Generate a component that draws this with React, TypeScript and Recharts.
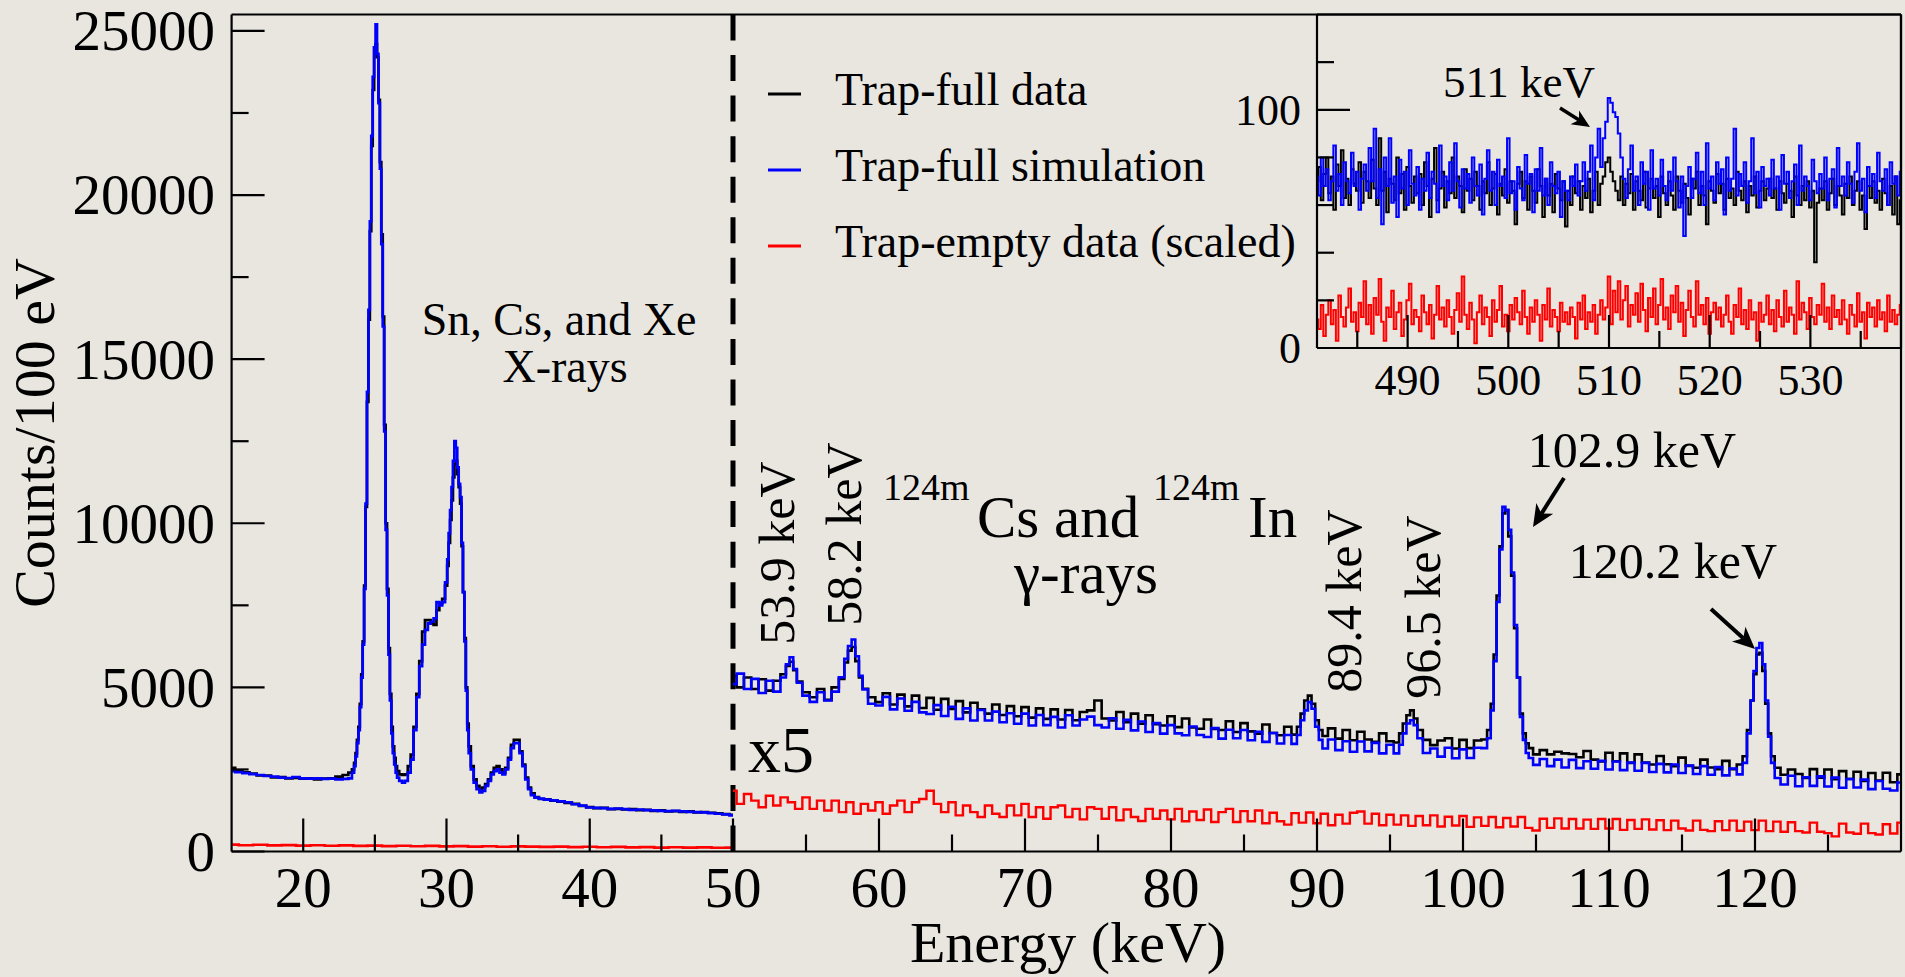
import React from 'react';
import { LineChart, Line, XAxis, YAxis, ReferenceLine } from 'recharts';

const FONT = '"Liberation Serif", "Times New Roman", Times, serif';
const BG = '#e9e6e0';
const AX = 2.2;

// ---------- Left panel: 15–50 keV (counts / 100 eV) ----------
const leftEnergy = [
  15, 15.5, 16, 16.5, 17, 17.5, 18, 18.5, 19, 19.5,
  20, 20.5, 21, 21.5, 22, 22.5, 23, 23.3, 23.5, 23.6,
  23.7, 23.8, 23.9, 24.0, 24.1, 24.2, 24.3, 24.4, 24.5, 24.6,
  24.7, 24.8, 24.9, 25.0, 25.1, 25.2, 25.3, 25.4, 25.5, 25.6,
  25.7, 25.8, 25.9, 26.0, 26.1, 26.2, 26.3, 26.4, 26.5, 26.6,
  26.8, 27.0, 27.2, 27.4, 27.6, 27.8, 28.0, 28.2, 28.4, 28.6,
  28.8, 29.0, 29.2, 29.4, 29.6, 29.8, 30.0, 30.1, 30.2, 30.3,
  30.4, 30.5, 30.6, 30.7, 30.8, 30.9, 31.0, 31.1, 31.2, 31.3,
  31.4, 31.5, 31.6, 31.8, 32.0, 32.2, 32.4, 32.6, 32.8, 33.0,
  33.2, 33.4, 33.6, 33.8, 34.0, 34.2, 34.4, 34.6, 34.8, 35.0,
  35.2, 35.4, 35.6, 35.8, 36.0, 36.3, 36.6, 37, 37.5, 38,
  38.5, 39, 39.5, 40, 40.5, 41, 41.5, 42, 42.5, 43,
  43.5, 44, 44.5, 45, 45.5, 46, 46.5, 47, 47.5, 48,
  48.5, 49, 49.5, 50,
];
const leftTrapFullData = [
  2550, 2460, 2410, 2370, 2320, 2310, 2260, 2270, 2230, 2240,
  2220, 2230, 2200, 2220, 2230, 2280, 2330, 2400, 2500, 2700,
  3000, 3400, 3800, 4500, 5400, 6400, 8100, 10500, 13700, 16200,
  18900, 21500, 23200, 24500, 24600, 24200, 22900, 21000, 18800, 16300,
  13000, 10000, 8000, 6200, 4800, 3800, 3200, 2850, 2600, 2450,
  2350, 2330, 2350, 2600, 2950, 3800, 4800, 5800, 6700, 7050,
  7050, 6950, 6900, 7350, 7550, 7700, 8100, 8700, 9400, 10100,
  10700, 11400, 11800, 11900, 11500, 11100, 10600, 9300, 7900, 6500,
  5000, 3900, 3200, 2600, 2200, 2000, 1900, 1950, 2050, 2200,
  2400, 2550, 2600, 2500, 2400, 2550, 2850, 3250, 3400, 3400,
  3050, 2650, 2250, 1950, 1770, 1660, 1600, 1590, 1550, 1520,
  1480, 1450, 1390, 1350, 1320, 1330, 1290, 1300, 1280, 1290,
  1260, 1270, 1240, 1250, 1220, 1230, 1210, 1220, 1190, 1200,
  1180, 1160, 1140, 1120,
];
const leftTrapFullSim = [
  2450, 2420, 2390, 2360, 2330, 2300, 2280, 2250, 2240, 2270,
  2230, 2220, 2230, 2210, 2220, 2200, 2210, 2230, 2400, 2600,
  2900, 3300, 3700, 4400, 5300, 6300, 8000, 10600, 14000, 16500,
  19200, 21800, 23600, 24500, 25200, 24300, 22800, 20800, 18500, 16000,
  12800, 9800, 7800, 6000, 4600, 3600, 3000, 2650, 2400, 2250,
  2150, 2100, 2150, 2400, 2800, 3700, 4700, 5650, 6300, 6750,
  6950, 7000, 7100, 7600, 7500, 7600, 8200, 8900, 9700, 10400,
  11100, 11900, 12500, 12300, 11700, 11200, 10800, 9400, 7900, 6400,
  4900, 3700, 3000, 2500, 2100, 1900, 1800, 1850, 2000, 2150,
  2350, 2450, 2500, 2400, 2350, 2500, 2800, 3150, 3300, 3300,
  3000, 2600, 2200, 1900, 1720, 1640, 1610, 1580, 1560, 1530,
  1500, 1440, 1400, 1340, 1330, 1320, 1300, 1310, 1290, 1270,
  1280, 1260, 1250, 1240, 1230, 1240, 1220, 1210, 1200, 1190,
  1170, 1150, 1130, 1100,
];
const leftEmptyStart = 15;
const leftEmptyBin = 1;
const leftTrapEmpty = [
  210, 190, 205, 185, 195, 180, 190, 175, 185, 170,
  180, 165, 175, 160, 170, 155, 165, 150, 160, 145,
  155, 150, 140, 150, 135, 145, 130, 140, 125, 135,
  120, 130, 120, 125, 115, 120,
];

// ---------- Right panel: 50–130 keV (x5) ----------
const rightEnergy = [
  50, 50.5, 51, 51.5, 52, 52.5, 53, 53.5, 53.75, 54,
  54.25, 54.5, 55, 55.5, 56, 56.5, 57, 57.5, 57.75, 58,
  58.25, 58.5, 58.75, 59, 59.5, 60, 60.5, 61, 61.5, 62,
  62.5, 63, 63.5, 64, 64.5, 65, 65.5, 66, 66.5, 67,
  67.5, 68, 68.5, 69, 69.5, 70, 70.5, 71, 71.5, 72,
  72.5, 73, 73.5, 74, 74.5, 75, 75.5, 76, 76.5, 77,
  77.5, 78, 78.5, 79, 79.5, 80, 80.5, 81, 81.5, 82,
  82.5, 83, 83.5, 84, 84.5, 85, 85.5, 86, 86.5, 87,
  87.5, 88, 88.5, 88.75, 89, 89.25, 89.5, 89.75, 90, 90.25,
  90.5, 91, 91.5, 92, 92.5, 93, 93.5, 94, 94.5, 95,
  95.5, 95.75, 96, 96.25, 96.5, 96.75, 97, 97.5, 98, 98.5,
  99, 99.5, 100, 100.5, 101, 101.5, 101.8, 102, 102.2, 102.4,
  102.6, 102.8, 103, 103.2, 103.4, 103.6, 103.8, 104, 104.2, 104.4,
  104.6, 105, 105.5, 106, 106.5, 107, 107.5, 108, 108.5, 109,
  109.5, 110, 110.5, 111, 111.5, 112, 112.5, 113, 113.5, 114,
  114.5, 115, 115.5, 116, 116.5, 117, 117.5, 118, 118.5, 119,
  119.3, 119.6, 119.8, 120, 120.2, 120.4, 120.6, 120.8, 121, 121.2,
  121.5, 122, 122.5, 123, 123.5, 124, 124.5, 125, 125.5, 126,
  126.5, 127, 127.5, 128, 128.5, 129, 129.5, 130,
];
const rightTrapFullData = [
  5350, 5000, 5300, 4950, 5250, 4900, 5200, 5400, 5650, 5780,
  5520, 5180, 4850, 4700, 4950, 4620, 5000, 5260, 5760, 6120,
  6230, 5800, 5300, 4960, 4700, 4550, 4820, 4480, 4780, 4420,
  4750, 4370, 4680, 4320, 4650, 4340, 4580, 4240, 4530, 4330,
  4200, 4480, 4160, 4430, 4120, 4400, 4080, 4360, 4040, 4330,
  4020, 4310, 4000, 4250, 4300, 4600, 4050, 3990, 4250, 3940,
  4200, 3890, 4150, 3880, 3840, 4120, 3790, 4050, 3780, 3740,
  4020, 3730, 3700, 3970, 3640, 3910, 3660, 3590, 3870, 3610,
  3540, 3800, 3560, 3800, 4200, 4600, 4750, 4500, 4000, 3700,
  3520, 3750, 3440, 3700, 3390, 3650, 3410, 3340, 3600, 3360,
  3320, 3600, 3900, 4150, 4300, 4050, 3700, 3400, 3240, 3380,
  3450, 3140, 3400, 3150, 3380, 3410, 3700, 4500, 6000, 7800,
  9300, 10300, 10400, 9600, 8400, 6800, 5300, 4200, 3600, 3300,
  3150, 2960, 3090, 2960, 3040, 2990, 2970, 2870, 3060, 2800,
  2740, 3010, 2750, 2990, 2700, 2960, 2710, 2650, 2910, 2660,
  2600, 2860, 2610, 2550, 2800, 2560, 2510, 2760, 2510, 2650,
  2900, 3700, 4600, 5400, 6000, 6050, 5500, 4500, 3600, 2900,
  2550, 2340, 2500, 2360, 2240, 2510, 2250, 2500, 2200, 2450,
  2210, 2430, 2150, 2390, 2160, 2400, 2110, 2350,
];
const rightTrapFullSim = [
  5100, 5420, 4950, 5260, 4830, 5200, 4870, 5300, 5700, 5920,
  5560, 5140, 4750, 4560, 4850, 4600, 4870, 5310, 5870, 6260,
  6460, 5950, 5350, 4940, 4500, 4450, 4710, 4330, 4660, 4290,
  4560, 4240, 4190, 4460, 4130, 4410, 4040, 4360, 3990, 4310,
  3990, 4260, 3940, 4210, 3890, 4200, 3840, 4160, 3850, 4100,
  3780, 4150, 3840, 4020, 4110, 3850, 3780, 4060, 3740, 4010,
  3690, 3960, 3640, 3910, 3590, 3850, 3600, 3540, 3810, 3550,
  3490, 3760, 3440, 3710, 3450, 3700, 3390, 3650, 3340, 3610,
  3290, 3550, 3280, 3550, 4000, 4300, 4550, 4350, 3800, 3400,
  3140, 3410, 3090, 3360, 3040, 3350, 3050, 3310, 2990, 3250,
  2990, 3250, 3600, 3900, 4000, 3850, 3450, 3000, 3140, 2890,
  3160, 2840, 3110, 2850, 3160, 3150, 3450, 4300, 5800, 7600,
  9200, 10500, 10400, 9800, 8500, 6900, 5300, 4100, 3400, 3000,
  2850, 2640, 2820, 2600, 2800, 2560, 2790, 2540, 2750, 2520,
  2760, 2500, 2740, 2480, 2710, 2460, 2700, 2420, 2670, 2410,
  2650, 2390, 2620, 2360, 2600, 2340, 2570, 2320, 2530, 2350,
  2700, 3600, 4600, 5500, 6200, 6350, 5700, 4600, 3500, 2700,
  2240, 2040, 2310, 1990, 2260, 2000, 2290, 1980, 2250, 1940,
  2210, 1950, 2190, 1900, 2150, 1910, 1860, 2100,
];
const rightEmptyStart = 50;
const rightEmptyBin = 0.5;
const rightTrapEmpty = [
  1850, 1450, 1750, 1550, 1350, 1700, 1400, 1650, 1500, 1300,
  1650, 1300, 1550, 1250, 1550, 1200, 1500, 1150, 1450, 1250,
  1500, 1150, 1400, 1550, 1200, 1500, 1600, 1850, 1450, 1200,
  1500, 1100, 1400, 1200, 1050, 1400, 1150, 1050, 1400, 1100,
  1450, 1050, 1350, 1000, 1350, 1400, 1050, 1300, 980, 1350,
  1300, 1000, 1350, 950, 1280, 1050, 930, 1300, 1000, 1250,
  980, 1300, 920, 1220, 960, 1280, 900, 1200, 1300, 900,
  1230, 920, 1250, 860, 1180, 920, 820, 1170, 880, 1190,
  860, 1150, 800, 1120, 850, 1180, 1220, 850, 1150, 800,
  1120, 820, 1100, 780, 1080, 800, 1100, 760, 1060, 790,
  1080, 750, 1040, 780, 1050, 740, 1020, 760, 1050, 720,
  640, 1000, 720, 1010, 700, 990, 700, 970, 690, 990,
  700, 990, 660, 960, 690, 980, 670, 950, 650, 940,
  700, 640, 940, 660, 620, 920, 650, 940, 630, 910,
  650, 940, 620, 910, 600, 890, 620, 580, 880, 600,
  560, 460, 850, 580, 540, 850, 560, 520, 830, 550,
  880,
];

// ---------- Inset: 481–539 keV ----------
const insetStart = 481;
const insetBin = 0.25;
const insetTrapFullData = [
  70, 76, 62, 73, 80, 65, 72, 58, 77, 68, 83, 63, 71, 60, 75, 69, 66, 78, 61, 74,
  70, 63, 79, 67, 60, 88, 66, 74, 57, 71, 69, 62, 80, 65, 73, 58, 76, 68, 61, 72,
  65, 73, 60, 78, 68, 55, 71, 84, 62, 67, 74, 59, 70, 65, 80, 63, 72, 68, 57, 75,
  66, 71, 62, 74, 68, 58, 70, 65, 78, 60, 67, 73, 56, 69, 64, 75, 61, 70, 66, 52,
  69, 74, 63, 70, 58, 72, 66, 61, 75, 68, 55, 71, 64, 69, 57, 73, 67, 62, 70, 51,
  66, 60, 72, 65, 70, 58, 68, 63, 71, 57, 66, 74, 60, 69, 72, 78, 80, 74, 70, 66,
  62, 72, 60, 69, 65, 73, 58, 70, 66, 62, 74, 59, 67, 71, 63, 68, 55, 72, 65, 60,
  70, 64, 58, 72, 66, 61, 69, 63, 56, 71, 67, 74, 60, 68, 64, 52, 70, 66, 61, 73,
  65, 69, 58, 71, 63, 67, 60, 74, 66, 62, 70, 57, 68, 64, 72, 59, 66, 70, 62, 67,
  71, 63, 67, 58, 70, 65, 61, 69, 66, 55, 72, 64, 60, 68, 62, 70, 59, 66, 36, 61,
  67, 62, 70, 58, 65, 71, 60, 68, 64, 56, 69, 63, 72, 60, 66, 70, 58, 64, 50, 68,
  63, 70, 61, 66, 58, 71, 65, 60, 68, 56, 72, 52, 62,
];
const insetTrapFullSim = [
  72, 64, 80, 68, 75, 62, 70, 85, 66, 73, 60, 78, 70, 65, 82, 68, 74, 58, 71, 77,
  66, 84, 70, 92, 63, 75, 52, 80, 68, 88, 61, 72, 55, 79, 67, 74, 60, 83, 69, 64,
  76, 58, 71, 66, 82, 63, 74, 69, 57, 85, 68, 72, 62, 78, 66, 86, 70, 59, 75, 67,
  73, 61, 80, 68, 64, 77, 56, 71, 83, 66, 74, 60, 79, 68, 72, 63, 88, 65, 70, 58,
  76, 67, 62, 81, 69, 73, 57, 75, 66, 84, 64, 71, 60, 78, 68, 65, 74, 55, 70, 66,
  62, 72, 68, 77, 64, 70, 78, 66, 74, 85, 62, 80, 92, 76, 88, 95, 105, 103, 99, 97,
  90, 80, 71, 63, 75, 85, 66, 72, 60, 78, 69, 74, 58, 83, 67, 71, 64, 79, 68, 62,
  74, 66, 80, 70, 59, 72, 47, 68, 76, 63, 71, 82, 65, 74, 60, 86, 67, 72, 62, 78,
  69, 75, 56, 80, 66, 71, 92, 64, 73, 68, 78, 61, 70, 88, 65, 74, 59, 76, 68, 71,
  64, 79, 67, 72, 58, 81, 69, 74, 63, 70, 77, 60, 85, 66, 72, 68, 62, 79, 70, 65,
  73, 67, 80, 62, 71, 75, 59, 84, 68, 72, 64, 78, 69, 61, 74, 86, 66, 71, 57, 76,
  68, 73, 63, 82, 70, 66, 75, 60, 78, 69, 72, 64, 74,
];
const insetTrapEmpty = [
  12, 8, 18, 5, 14, 20, 10, 16, 3, 22, 13, 9, 17, 25, 11, 15, 7, 19, 13, 28,
  10, 18, 6, 21, 14, 29, 11, 3, 17, 13, 24, 8, 15, 19, 5, 12, 20, 27, 10, 16,
  13, 7, 22, 15, 10, 18, 4, 14, 26, 12, 17, 9, 20, 13, 6, 16, 23, 11, 30, 14,
  8, 19, 12, 2, 15, 22, 10, 17, 13, 5, 20, 11, 16, 26, 9, 14, 7, 18, 12, 21,
  15, 10, 24, 13, 6, 17, 11, 20, 14, 3, 18, 12, 25, 9, 16, 13, 7, 19, 11, 15,
  10, 17, 13, 4, 19, 12, 22, 8, 15, 11, 18, 6, 14, 20, 12, 17, 30, 10, 24, 15,
  28, 12, 20, 26, 9, 18, 14, 23, 11, 27, 16, 7, 21, 13, 25, 10, 18, 29, 12, 17,
  8, 22, 15, 26, 11, 19, 5, 16, 24, 13, 9, 28, 14, 18, 10, 21, 6, 15, 19, 12,
  17, 9, 14, 22, 11, 6, 18, 13, 25, 10, 16, 8, 20, 12, 15, 3, 19, 11, 14, 22,
  10, 16, 7, 20, 13, 9, 24, 11, 17, 14, 6, 28, 12, 19, 15, 8, 21, 13, 10, 18,
  14, 27, 11, 17, 8, 22, 13, 16, 10, 20, 12, 6, 18, 14, 9, 23, 11, 15, 4, 19,
  13, 17, 9, 20, 12, 15, 7, 22, 11, 16, 10, 14, 18,
];

// ---------- ticks ----------
const mainYTicks = [0, 2500, 5000, 7500, 10000, 12500, 15000, 17500, 20000, 22500, 25000];
const mainYLabels = [0, 5000, 10000, 15000, 20000, 25000];
const leftXTicks = [20, 25, 30, 35, 40, 45, 50];
const rightXTicks = [55, 60, 65, 70, 75, 80, 85, 90, 95, 100, 105, 110, 115, 120, 125];
const mainXLabels = [20, 30, 40, 50, 60, 70, 80, 90, 100, 110, 120];
const insetXTicks = [485, 490, 495, 500, 505, 510, 515, 520, 525, 530, 535];
const insetXLabels = [490, 500, 510, 520, 530];
const insetYTicks = [0, 20, 40, 60, 80, 100, 120];
const insetYLabels = [0, 100];

const pairRows = (xs: number[], ys: number[]) => xs.map((e, i) => ({ e, v: ys[i] }));
const binRows = (start: number, bin: number, ys: number[]) => ys.map((v, i) => ({ e: start + i * bin, v }));

const leftDataRows = pairRows(leftEnergy, leftTrapFullData);
const leftSimRows = pairRows(leftEnergy, leftTrapFullSim);
const leftEmptyRows = binRows(leftEmptyStart, leftEmptyBin, leftTrapEmpty);
const rightDataRows = pairRows(rightEnergy, rightTrapFullData);
const rightSimRows = pairRows(rightEnergy, rightTrapFullSim);
const rightEmptyRows = binRows(rightEmptyStart, rightEmptyBin, rightTrapEmpty);
const insetDataRows = binRows(insetStart, insetBin, insetTrapFullData);
const insetSimRows = binRows(insetStart, insetBin, insetTrapFullSim);
const insetEmptyRows = binRows(insetStart, insetBin, insetTrapEmpty);

// ---------- tick renderers (inward ticks) ----------
const bottomTick = (labels: number[], fs: number, dy: number) => (p: any) => {
  const v = p.payload.value;
  const major = labels.includes(v);
  return (
    <g>
      <line x1={p.x} y1={p.y} x2={p.x} y2={p.y - (major ? 33 : 17)} stroke="#000" strokeWidth={AX} />
      {major ? (
        <text x={p.x} y={p.y + dy} textAnchor="middle" fontSize={fs} fontFamily={FONT} fill="#000">{v}</text>
      ) : null}
    </g>
  );
};
const topTick = (labels: number[]) => (p: any) => {
  const major = labels.includes(p.payload.value);
  return <line x1={p.x} y1={p.y} x2={p.x} y2={p.y + (major ? 33 : 17)} stroke="#000" strokeWidth={AX} />;
};
const leftTick = (labels: number[], fs: number, gap: number) => (p: any) => {
  const v = p.payload.value;
  const major = labels.includes(v);
  return (
    <g>
      <line x1={p.x} y1={p.y} x2={p.x + (major ? 33 : 17)} y2={p.y} stroke="#000" strokeWidth={AX} />
      {major ? (
        <text x={p.x - gap} y={p.y + fs * 0.34} textAnchor="end" fontSize={fs} fontFamily={FONT} fill="#000">{v}</text>
      ) : null}
    </g>
  );
};
const rightTick = (labels: number[]) => (p: any) => {
  const major = labels.includes(p.payload.value);
  return <line x1={p.x} y1={p.y} x2={p.x - (major ? 33 : 17)} y2={p.y} stroke="#000" strokeWidth={AX} />;
};

const axisLine = { stroke: '#000', strokeWidth: AX };

function Arrow({ x1, y1, x2, y2, w, hl, hw }: any) {
  const dx = x2 - x1;
  const dy = y2 - y1;
  const L = Math.hypot(dx, dy);
  const ux = dx / L;
  const uy = dy / L;
  const px = -uy;
  const py = ux;
  const bx = x2 - ux * hl;
  const by = y2 - uy * hl;
  const nx = x2 - ux * hl * 0.72;
  const ny = y2 - uy * hl * 0.72;
  return (
    <g>
      <line x1={x1} y1={y1} x2={nx} y2={ny} stroke="#000" strokeWidth={w} />
      <polygon points={`${x2},${y2} ${bx + px * hw},${by + py * hw} ${nx},${ny} ${bx - px * hw},${by - py * hw}`} fill="#000" />
    </g>
  );
}

const T = (props: any) => <text fontFamily={FONT} fill="#000" {...props} />;

export default function App() {
  return (
    <div style={{ position: 'absolute', left: 0, top: 0, width: 1905, height: 977, background: BG, overflow: 'hidden' }}>
      {/* Left panel 15–50 keV */}
      <div style={{ position: 'absolute', left: 0, top: 0 }}>
        <LineChart width={800} height={977} margin={{ top: 0, right: 67, bottom: 0, left: 0 }}>
          <XAxis type="number" dataKey="e" domain={[15, 50]} allowDataOverflow ticks={leftXTicks} interval={0}
            tickSize={0} tickMargin={0} tickLine={false} tick={bottomTick(mainXLabels, 57, 55.5)} height={125.5} axisLine={axisLine} />
          <XAxis xAxisId="top" orientation="top" type="number" domain={[15, 50]} height={14.5} tick={false} tickLine={false} axisLine={axisLine} />
          <YAxis type="number" domain={[0, 25500]} allowDataOverflow ticks={mainYTicks} interval={0} tickSize={0} tickMargin={0}
            tickLine={false} tick={leftTick(mainYLabels, 57, 16.5)} width={231.6} axisLine={axisLine} />
          <Line data={leftDataRows} dataKey="v" type="step" stroke="#000000" strokeWidth={2.7} dot={false} isAnimationActive={false} />
          <Line data={leftSimRows} dataKey="v" type="step" stroke="#0000ff" strokeWidth={2.7} dot={false} isAnimationActive={false} />
          <Line data={leftEmptyRows} dataKey="v" type="step" stroke="#ff0000" strokeWidth={2.7} dot={false} isAnimationActive={false} />
          <ReferenceLine x={50} stroke="#000" strokeWidth={5} strokeDasharray="26 14.55" />
        </LineChart>
      </div>

      {/* Right panel 50–130 keV */}
      <div style={{ position: 'absolute', left: 0, top: 0 }}>
        <LineChart width={1905} height={977} margin={{ top: 0, right: 0, bottom: 0, left: 733 }}>
          <XAxis type="number" dataKey="e" domain={[50, 130]} allowDataOverflow ticks={rightXTicks} interval={0}
            tickSize={0} tickMargin={0} tickLine={false} tick={bottomTick(mainXLabels, 57, 55.5)} height={125.5} axisLine={axisLine} />
          <XAxis xAxisId="top" orientation="top" type="number" domain={[50, 130]} height={14.5} tick={false} tickLine={false} axisLine={axisLine} />
          <YAxis hide type="number" domain={[0, 25500]} allowDataOverflow />
          <YAxis yAxisId="frame" orientation="right" type="number" domain={[0, 1]} width={4} tick={false} tickLine={false} axisLine={axisLine} />
          <Line data={rightDataRows} dataKey="v" type="step" stroke="#000000" strokeWidth={2.6} dot={false} isAnimationActive={false} />
          <Line data={rightSimRows} dataKey="v" type="step" stroke="#0000ff" strokeWidth={2.6} dot={false} isAnimationActive={false} />
          <Line data={rightEmptyRows} dataKey="v" type="step" stroke="#ff0000" strokeWidth={2.4} dot={false} isAnimationActive={false} />
        </LineChart>
      </div>

      {/* Inset 481–539 keV */}
      <div style={{ position: 'absolute', left: 0, top: 0 }}>
        <LineChart width={1905} height={410} margin={{ top: 0, right: 0, bottom: 0, left: 1257 }}>
          <XAxis type="number" dataKey="e" domain={[481, 539]} allowDataOverflow ticks={insetXTicks} interval={0}
            tickSize={0} tickMargin={0} tickLine={false} tick={bottomTick(insetXLabels, 44, 47)} height={62} axisLine={axisLine} />
          <XAxis xAxisId="top" orientation="top" type="number" domain={[481, 539]} ticks={insetXTicks} interval={0}
            tickSize={0} tickMargin={0} tickLine={false} tick={topTick(insetXLabels)} height={14.5} axisLine={axisLine} />
          <YAxis type="number" domain={[0, 140]} allowDataOverflow ticks={insetYTicks} interval={0} tickSize={0} tickMargin={0}
            tickLine={false} tick={leftTick(insetYLabels, 44, 16)} width={60} axisLine={axisLine} />
          <YAxis yAxisId="r" orientation="right" type="number" domain={[0, 140]} ticks={insetYTicks} interval={0} tickSize={0}
            tickMargin={0} tickLine={false} tick={rightTick(insetYLabels)} width={4} axisLine={axisLine} />
          <Line data={insetDataRows} dataKey="v" type="step" stroke="#000000" strokeWidth={2} dot={false} isAnimationActive={false} />
          <Line data={insetSimRows} dataKey="v" type="step" stroke="#0000ff" strokeWidth={2} dot={false} isAnimationActive={false} />
          <Line data={insetEmptyRows} dataKey="v" type="step" stroke="#ff0000" strokeWidth={2} dot={false} isAnimationActive={false} />
        </LineChart>
      </div>

      {/* Titles, legend and annotations */}
      <svg width={1905} height={977} style={{ position: 'absolute', left: 0, top: 0, pointerEvents: 'none' }}>
        <T transform="translate(54,433) rotate(-90)" textAnchor="middle" fontSize={58}>Counts/100 eV</T>
        <T x={1068} y={962} textAnchor="middle" fontSize={58}>Energy (keV)</T>

        <line x1={768} y1={94} x2={801} y2={94} stroke="#000000" strokeWidth={3} />
        <line x1={768} y1={170} x2={801} y2={170} stroke="#0000ff" strokeWidth={3} />
        <line x1={768} y1={246} x2={801} y2={246} stroke="#ff0000" strokeWidth={3} />
        <T x={835} y={105} fontSize={46}>Trap-full data</T>
        <T x={835} y={181} fontSize={46}>Trap-full simulation</T>
        <T x={835} y={257} fontSize={46}>Trap-empty data (scaled)</T>

        <T x={559} y={335} textAnchor="middle" fontSize={46}>Sn, Cs, and Xe</T>
        <T x={565} y={382} textAnchor="middle" fontSize={46}>X-rays</T>

        <T x={748} y={772} fontSize={66}>x5</T>

        <T transform="translate(794,553) rotate(-90)" textAnchor="middle" fontSize={50}>53.9 keV</T>
        <T transform="translate(861,534) rotate(-90)" textAnchor="middle" fontSize={50}>58.2 keV</T>
        <T transform="translate(1361,601) rotate(-90)" textAnchor="middle" fontSize={50}>89.4 keV</T>
        <T transform="translate(1440,607) rotate(-90)" textAnchor="middle" fontSize={50}>96.5 keV</T>

        <T x={883} y={500} fontSize={38}>124m</T>
        <T x={977} y={537} fontSize={59}>Cs and</T>
        <T x={1153} y={500} fontSize={38}>124m</T>
        <T x={1248} y={537} fontSize={59}>In</T>
        <T x={1086} y={593} textAnchor="middle" fontSize={59}>γ-rays</T>

        <T x={1632} y={467} textAnchor="middle" fontSize={50}>102.9 keV</T>
        <Arrow x1={1564} y1={478} x2={1533} y2={527} w={4} hl={22} hw={10} />
        <T x={1673} y={578} textAnchor="middle" fontSize={50}>120.2 keV</T>
        <Arrow x1={1711} y1={609} x2={1755} y2={649} w={4} hl={22} hw={10} />

        <T x={1519} y={97} textAnchor="middle" fontSize={45}>511 keV</T>
        <Arrow x1={1560} y1={108} x2={1590} y2={127} w={3.5} hl={18} hw={8} />
      </svg>
    </div>
  );
}
